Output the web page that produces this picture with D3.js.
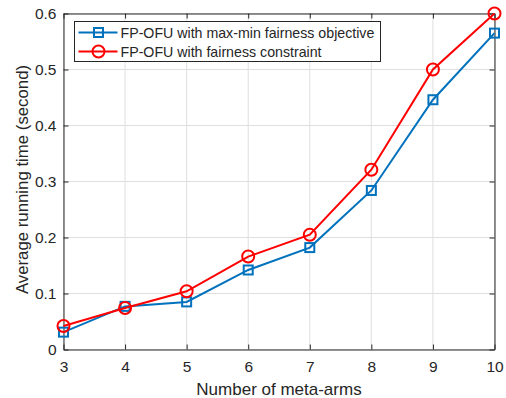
<!DOCTYPE html>
<html lang="en">
<head>
<meta charset="UTF-8">
<script src="https://cdn.jsdelivr.net/npm/d3@7"></script>
<style>
	body { margin: 0; background: #fff; }
	text { font-family: "Liberation Sans", Arial, sans-serif; fill: #262626; }
</style>
</head>
<body>
<script>
var arms = [3, 4, 5, 6, 7, 8, 9, 10];
var maxMin = [0.031, 0.077, 0.085, 0.142, 0.182, 0.284, 0.446, 0.565];
var constraint = [0.042, 0.074, 0.104, 0.166, 0.205, 0.321, 0.500, 0.600];
var yTicks = [0, 0.1, 0.2, 0.3, 0.4, 0.5, 0.6];
var names = ['FP-OFU with max-min fairness objective', 'FP-OFU with fairness constraint'];

var margin = {top: 13.5, right: 11.5, bottom: 48.5, left: 63.5};
var W = 506, H = 398;
var width = W - margin.left - margin.right;
var height = H - margin.top - margin.bottom;

var svg = d3.select('body').append('svg').attr('width', W).attr('height', H);
var g = svg.append('g').attr('transform', 'translate(' + margin.left + ',' + margin.top + ')');

var x = d3.scaleLinear().domain([3, 10]).range([0, width]);
var y = d3.scaleLinear().domain([0, 0.6]).range([height, 0]);

// grid
g.append('g').selectAll('line').data(arms).enter().append('line')
	.attr('x1', function (d) { return x(d); }).attr('x2', function (d) { return x(d); })
	.attr('y1', 0).attr('y2', height)
	.attr('stroke', '#dfdfdf').attr('stroke-width', 1);
g.append('g').selectAll('line').data(yTicks).enter().append('line')
	.attr('y1', function (d) { return y(d); }).attr('y2', function (d) { return y(d); })
	.attr('x1', 0).attr('x2', width)
	.attr('stroke', '#dfdfdf').attr('stroke-width', 1);

// axes
var ax = g.append('g').attr('transform', 'translate(0,' + height + ')')
	.call(d3.axisBottom(x).tickValues(arms).tickFormat(d3.format('d')).tickSizeInner(-5).tickSizeOuter(0).tickPadding(11));
var ay = g.append('g')
	.call(d3.axisLeft(y).tickValues(yTicks).tickFormat(function (d) { return d === 0 ? '0' : d3.format('.1f')(d); }).tickSizeInner(-5).tickSizeOuter(0).tickPadding(7));
var axTop = g.append('g')
	.call(d3.axisTop(x).tickValues(arms).tickFormat('').tickSizeInner(-5).tickSizeOuter(0));
var ayRight = g.append('g').attr('transform', 'translate(' + width + ',0)')
	.call(d3.axisRight(y).tickValues(yTicks).tickFormat('').tickSizeInner(-5).tickSizeOuter(0));
[ax, ay, axTop, ayRight].forEach(function (a) {
	a.selectAll('path, line').attr('stroke', '#262626');
	a.selectAll('text').attr('font-size', 15.5).style('fill', '#262626');
});

svg.append('text').attr('x', margin.left + width / 2).attr('y', 395)
	.attr('text-anchor', 'middle').attr('font-size', 17).text('Number of meta-arms');
svg.append('text').attr('transform', 'translate(28,' + (margin.top + height / 2 - 2) + ') rotate(-90)')
	.attr('text-anchor', 'middle').attr('font-size', 16.8).text('Average running time (second)');

var line = d3.line().x(function (d, i) { return x(arms[i]); }).y(function (d) { return y(d); });

g.append('path').datum(maxMin).attr('d', line).attr('fill', 'none').attr('stroke', '#0072BD').attr('stroke-width', 2);
g.append('g').selectAll('rect').data(maxMin).enter().append('rect')
	.attr('x', function (d, i) { return x(arms[i]) - 4.5; })
	.attr('y', function (d) { return y(d) - 4.5; })
	.attr('width', 9).attr('height', 9)
	.attr('fill', 'none').attr('stroke', '#0072BD').attr('stroke-width', 2);

g.append('path').datum(constraint).attr('d', line).attr('fill', 'none').attr('stroke', '#FF0000').attr('stroke-width', 2);
g.append('g').selectAll('circle').data(constraint).enter().append('circle')
	.attr('cx', function (d, i) { return x(arms[i]); })
	.attr('cy', function (d) { return y(d); })
	.attr('r', 6)
	.attr('fill', 'none').attr('stroke', '#FF0000').attr('stroke-width', 2);

// legend
var lg = svg.append('g').attr('transform', 'translate(74.5,21.5)');
lg.append('rect').attr('width', 306).attr('height', 40).attr('fill', '#fff').attr('stroke', '#262626').attr('stroke-width', 1);
var colors = ['#0072BD', '#FF0000'];
names.forEach(function (n, i) {
	var yy = 11 + i * 19;
	lg.append('line').attr('x1', 4).attr('x2', 43).attr('y1', yy).attr('y2', yy)
		.attr('stroke', colors[i]).attr('stroke-width', 2);
	if (i === 0) {
		lg.append('rect').attr('x', 19.5).attr('y', yy - 4.5).attr('width', 9).attr('height', 9)
			.attr('fill', 'none').attr('stroke', colors[i]).attr('stroke-width', 2);
	} else {
		lg.append('circle').attr('cx', 24).attr('cy', yy).attr('r', 6)
			.attr('fill', 'none').attr('stroke', colors[i]).attr('stroke-width', 2);
	}
	lg.append('text').attr('x', 46).attr('y', yy + 5).attr('font-size', 14.2).text(n);
});
</script>
</body>
</html>
